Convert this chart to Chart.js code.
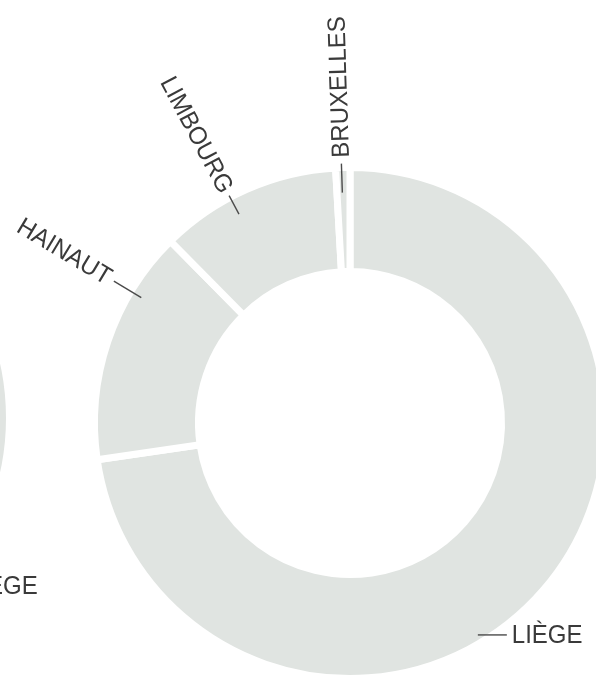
<!DOCTYPE html>
<html>
<head>
<meta charset="utf-8">
<script src="https://cdn.jsdelivr.net/npm/chart.js@4"></script>
<style>
    html, body { margin: 0; padding: 0; background: #fff; overflow: hidden; width: 596px; height: 675px; }
    #mainWrap { position: absolute; left: 0; top: 0; width: 700px; height: 700px; }
    #leftWrap { position: absolute; left: -546px; top: 118px; width: 600px; height: 600px; }
</style>
</head>
<body>
<div id="leftWrap"><canvas id="leftChart" width="600" height="600"></canvas></div>
<div id="mainWrap"><canvas id="mainChart" width="700" height="700"></canvas></div>
<script>
const categories = ['Liège', 'Hainaut', 'Limbourg', 'Bruxelles'];
const shares = [72.7, 14.9, 11.5, 0.9];

// the neighbouring ring, only its right edge is in the picture
const leftCategories = ['Liège'];
const leftShares = [100];

const ringColor = '#e0e4e1';
const textColor = '#3a3a3a';
const lineColor = '#4a4a4a';
const labelFont = '25px "Liberation Sans", Arial, sans-serif';
const squeeze = 0.96; // the original type is a bit condensed

// where each label sits around the ring (degrees clockwise from top)
// mode 'out' = text reads outward, 'in' = text reads toward the centre, 'flat' = horizontal
const mainLabelLayout = {
    'Liège':     { mode: 'flat', angle: 148.9, r: -8, dash: 29, gap: 5 },
    'Hainaut':   { mode: 'in',  angle: -59,  lineIn: -12, lineOut: 20, gap: 5 },
    'Limbourg':  { mode: 'in',  angle: -28,  lineIn: -19, lineOut: 2, gap: 5 },
    'Bruxelles': { mode: 'out', angle: -1.9, lineIn: -25, lineOut: 4, gap: 6 }
};
const leftLabelLayout = {
    'Liège': { mode: 'flat', angle: 133.2, r: -10, dash: 29, gap: 5 }
};

const leaderLabels = {
    id: 'leaderLabels',
    afterDraw(chart, args, opts) {
        const arc = chart.getDatasetMeta(0).data[0];
        if (!arc) return;
        const cx = arc.x, cy = arc.y, R0 = arc.outerRadius;
        const ctx = chart.ctx;
        const pt = (a, r) => [cx + r * Math.sin(a), cy - r * Math.cos(a)];

        chart.data.labels.forEach(name => {
            const L = opts.layout[name];
            if (!L) return;
            const a = L.angle * Math.PI / 180;
            const txt = name.toUpperCase();
            ctx.save();
            ctx.font = labelFont;
            ctx.fillStyle = textColor;
            ctx.strokeStyle = lineColor;
            ctx.lineWidth = 1.4;

            if (L.mode === 'flat') {
                const [x, y] = pt(a, R0 + L.r);
                ctx.beginPath();
                ctx.moveTo(x, y);
                ctx.lineTo(x + L.dash, y);
                ctx.stroke();
                ctx.translate(x + L.dash + L.gap, y + 1);
                ctx.scale(squeeze, 1);
                ctx.textAlign = 'left';
                ctx.textBaseline = 'middle';
                ctx.fillText(txt, 0, 0);
            } else {
                const [x1, y1] = pt(a, R0 + L.lineIn);
                const [x2, y2] = pt(a, R0 + L.lineOut);
                ctx.beginPath();
                ctx.moveTo(x1, y1);
                ctx.lineTo(x2, y2);
                ctx.stroke();
                const [tx, ty] = pt(a, R0 + L.lineOut + L.gap);
                ctx.translate(tx, ty);
                ctx.textBaseline = 'middle';
                if (L.mode === 'out') {
                    ctx.rotate(a - Math.PI / 2);
                    ctx.textAlign = 'left';
                } else {
                    ctx.rotate(a + Math.PI / 2);
                    ctx.textAlign = 'right';
                }
                ctx.scale(squeeze, 1);
                ctx.fillText(txt, 0, 1);
            }
            ctx.restore();
        });
    }
};

function makeRing(canvasId, labels, values, layout, pad) {
    const ctx = document.getElementById(canvasId).getContext('2d');
    return new Chart(ctx, {
        type: 'doughnut',
        data: {
            labels: labels,
            datasets: [{
                data: values,
                backgroundColor: ringColor,
                borderColor: '#ffffff',
                borderWidth: 7,
                hoverOffset: 0
            }]
        },
        options: {
            responsive: false,
            animation: false,
            radius: 255.5,
            cutout: '59.3%',
            rotation: 0,
            layout: { padding: pad },
            plugins: {
                legend: { display: false },
                tooltip: { enabled: false },
                leaderLabels: { layout: layout }
            }
        },
        plugins: [leaderLabels]
    });
}

// main ring centred at (350, 423) on the page
makeRing('mainChart', categories, shares, mainLabelLayout,
    { left: 94.5, top: 167.5, right: 94.5, bottom: 21.5 });
// neighbour ring centred at (-246, 418)
makeRing('leftChart', leftCategories, leftShares, leftLabelLayout,
    { left: 44.5, top: 44.5, right: 44.5, bottom: 44.5 });
</script>
</body>
</html>
